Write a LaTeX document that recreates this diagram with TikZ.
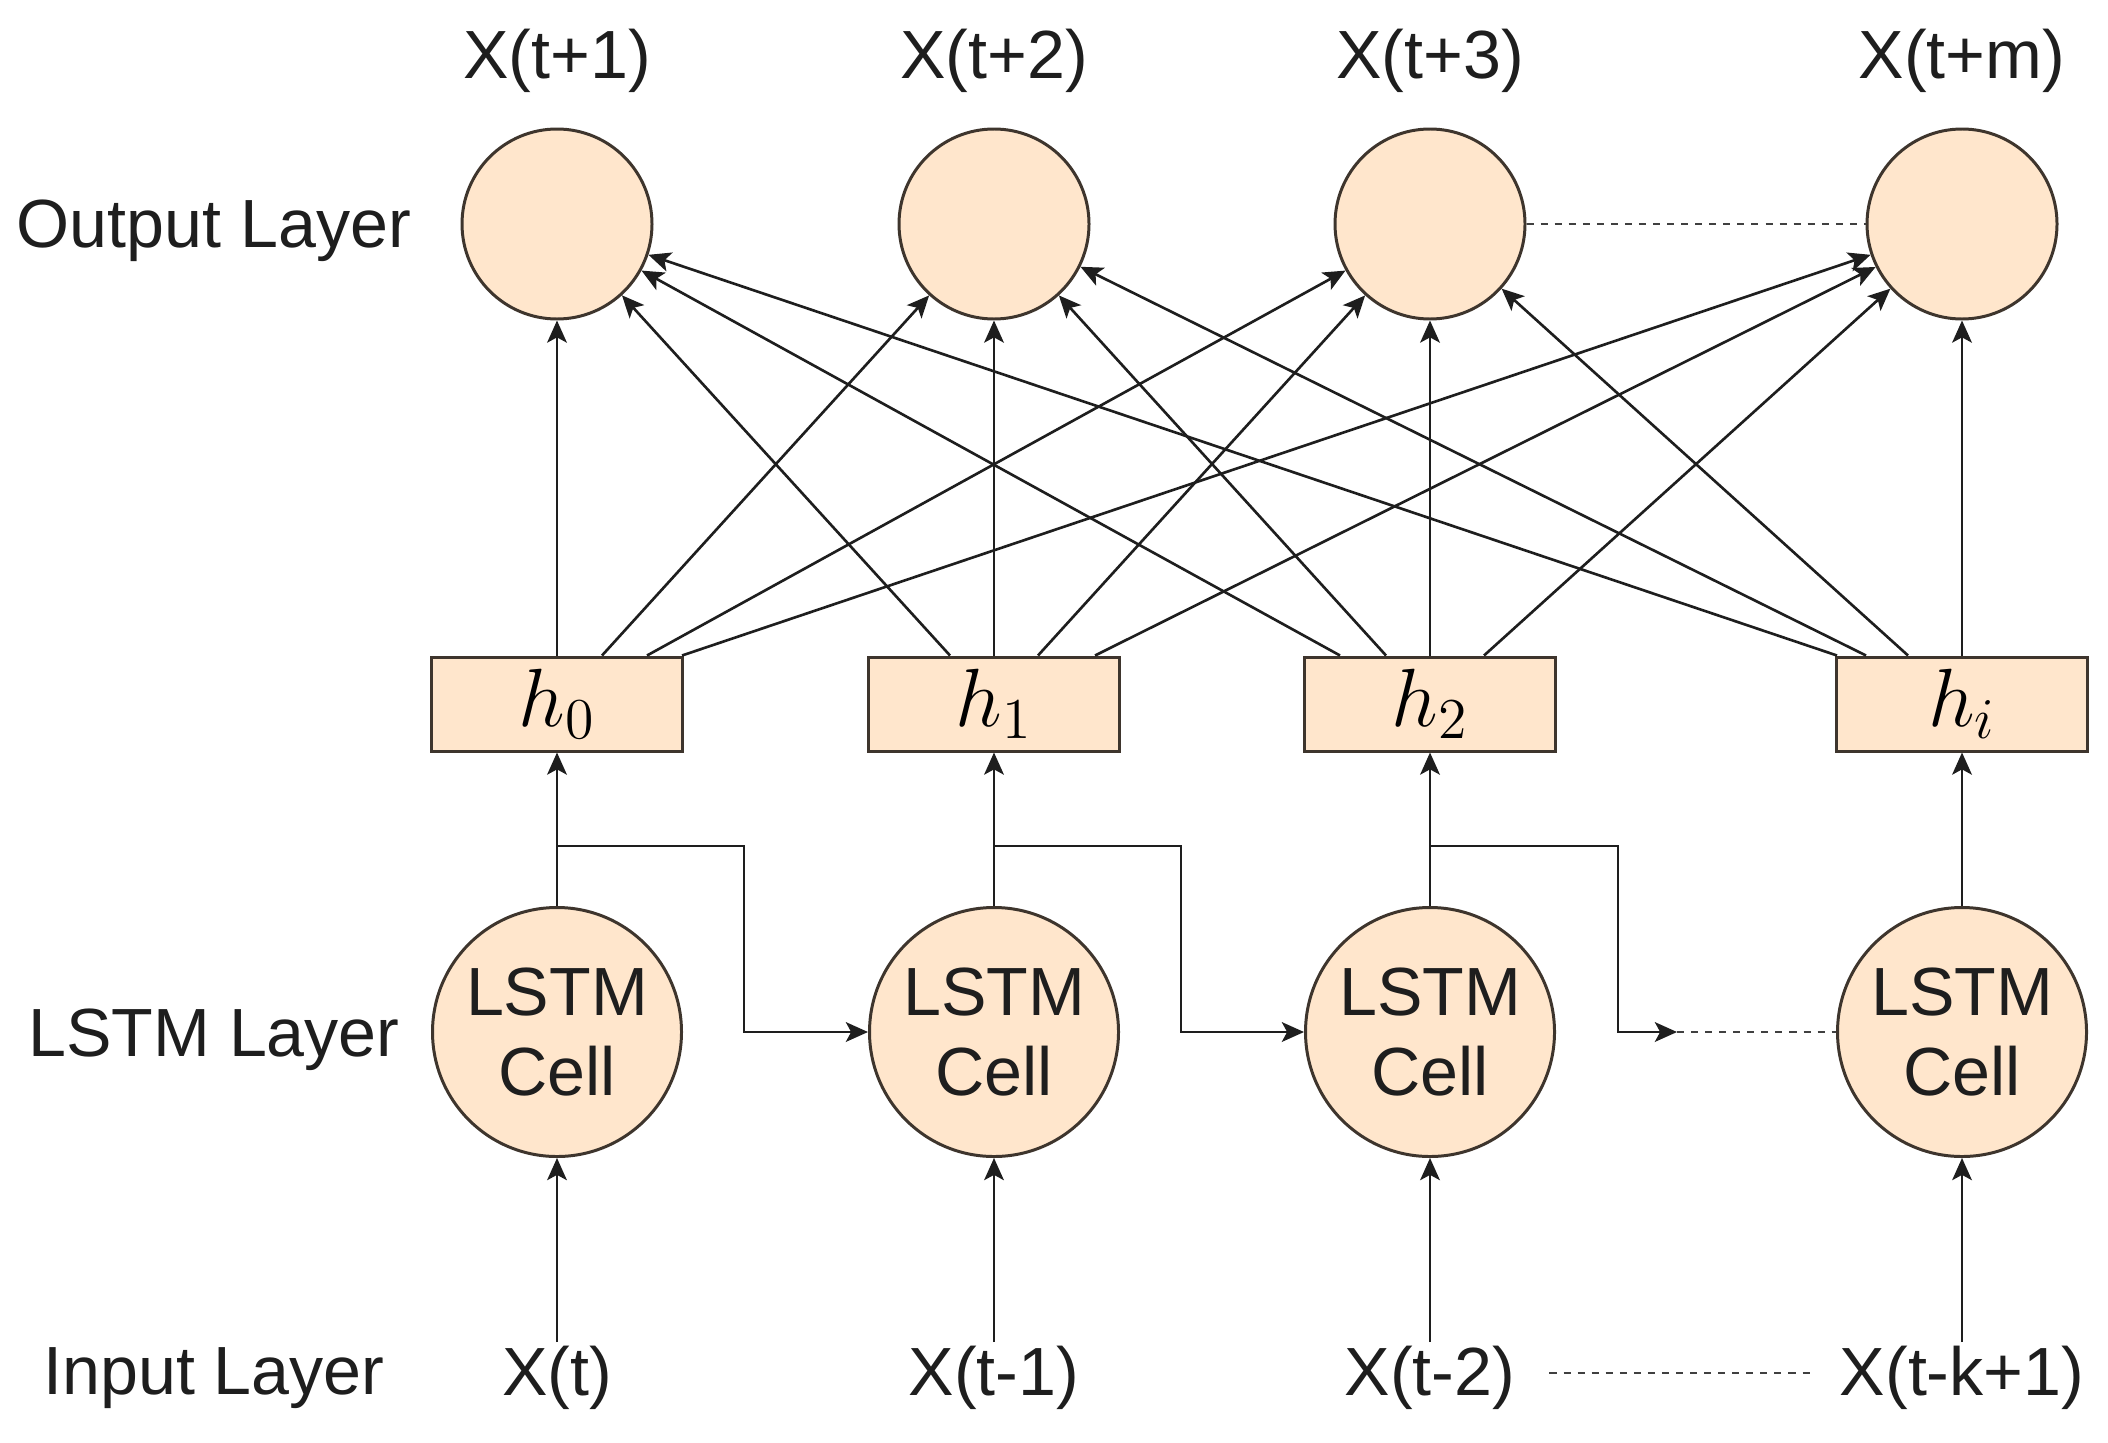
\RequirePackage{fix-cm}
\documentclass[tikz,border=0pt]{standalone}
\usepackage{fontspec}
\setmainfont{Liberation Sans}
\usetikzlibrary{arrows.meta}
\definecolor{peach}{HTML}{FFE6CC}
\definecolor{rim}{HTML}{3E352D}
\definecolor{ink}{HTML}{1E1E1E}

\begin{document}
\begin{tikzpicture}[
	lbl/.style={font=\fontsize{19.4}{22.8}\selectfont, text=ink},
	outnode/.style={circle, draw=rim, fill=peach, line width=0.85pt, minimum size=1.9cm, inner sep=0pt},
	cell/.style={circle, draw=rim, fill=peach, line width=0.85pt, minimum size=2.49cm, inner sep=0pt, align=center, lbl},
	hbox/.style={rectangle, draw=rim, fill=peach, line width=0.85pt, minimum width=2.51cm, minimum height=0.94cm, inner sep=0pt, font=\fontsize{23.5}{28}\selectfont},
	arr/.style={-{Stealth[length=6.3pt,width=5.6pt,inset=1.5pt]}, draw=ink, line width=0.75pt},
	gapline/.style={draw=ink!85, line width=0.75pt, dash pattern=on 2pt off 2pt}
	]
	\useasboundingbox (0,0) rectangle (21.08,14.42);
	% layer names
	\node[lbl] (lout) at (2.14,12.11) {Output Layer};
	\node[lbl] (llstm) at (2.14,4.02) {LSTM Layer};
	\node[lbl] (lin) at (2.14,0.64) {Input Layer};
	% output layer
	\node[lbl] (t1) at (5.57,13.81) {X(t+1)};
	\node[lbl] (t2) at (9.94,13.81) {X(t+2)};
	\node[lbl] (t3) at (14.30,13.81) {X(t+3)};
	\node[lbl] (t4) at (19.62,13.81) {X(t+m)};
	\node[outnode] (o1) at (5.57,12.18) {};
	\node[outnode] (o2) at (9.94,12.18) {};
	\node[outnode] (o3) at (14.30,12.18) {};
	\node[outnode] (o4) at (19.62,12.18) {};
	\draw[gapline] (o3) -- (o4);
	% hidden states
	\node[hbox] (h0) at (5.57,7.38) {$h_0$};
	\node[hbox] (h1) at (9.94,7.38) {$h_1$};
	\node[hbox] (h2) at (14.30,7.38) {$h_2$};
	\node[hbox] (hi) at (19.62,7.38) {$h_i$};
	\foreach \s/\t/\dx in {h0/o1/0, h0/o2/0.45, h0/o3/0.90, h0/o4/1.25,
		h1/o1/-0.44, h1/o2/0, h1/o3/0.44, h1/o4/1.01,
		h2/o1/-0.90, h2/o2/-0.44, h2/o3/0, h2/o4/0.54,
		hi/o1/-1.25, hi/o2/-0.96, hi/o3/-0.54, hi/o4/0}
		\draw[arr] ([xshift=\dx cm]\s.north) -- (\t);
	% LSTM layer
	\node[cell] (c1) at (5.57,4.10) {LSTM\\Cell};
	\node[cell] (c2) at (9.94,4.10) {LSTM\\Cell};
	\node[cell] (c3) at (14.30,4.10) {LSTM\\Cell};
	\node[cell] (c4) at (19.62,4.10) {LSTM\\Cell};
	\draw[arr] (c1) -- (h0);
	\draw[arr] (c2) -- (h1);
	\draw[arr] (c3) -- (h2);
	\draw[arr] (c4) -- (hi);
	\draw[arr] ([yshift=0.6cm]c1.north) -| ([xshift=1.87cm]c1.center) -- (c2);
	\draw[arr] ([yshift=0.6cm]c2.north) -| ([xshift=1.87cm]c2.center) -- (c3);
	\coordinate (gap) at (16.77,4.10);
	\draw[arr] ([yshift=0.6cm]c3.north) -| ([xshift=1.88cm]c3.center) -- (gap);
	\draw[gapline] (gap) -- (c4);
	% input layer
	\node[lbl, inner sep=1pt] (x1) at (5.57,0.64) {X(t)};
	\node[lbl, inner sep=1pt] (x2) at (9.94,0.64) {X(t-1)};
	\node[lbl, inner sep=1pt] (x3) at (14.30,0.64) {X(t-2)};
	\node[lbl, inner sep=1pt] (x4) at (19.62,0.64) {X(t-k+1)};
	\draw[arr] (x1) -- (c1);
	\draw[arr] (x2) -- (c2);
	\draw[arr] (x3) -- (c3);
	\draw[arr] (x4) -- (c4);
	\draw[gapline] ([xshift=0.3cm,yshift=0.05cm]x3.east) -- ([xshift=-0.2cm,yshift=0.05cm]x4.west);
\end{tikzpicture}
\end{document}
